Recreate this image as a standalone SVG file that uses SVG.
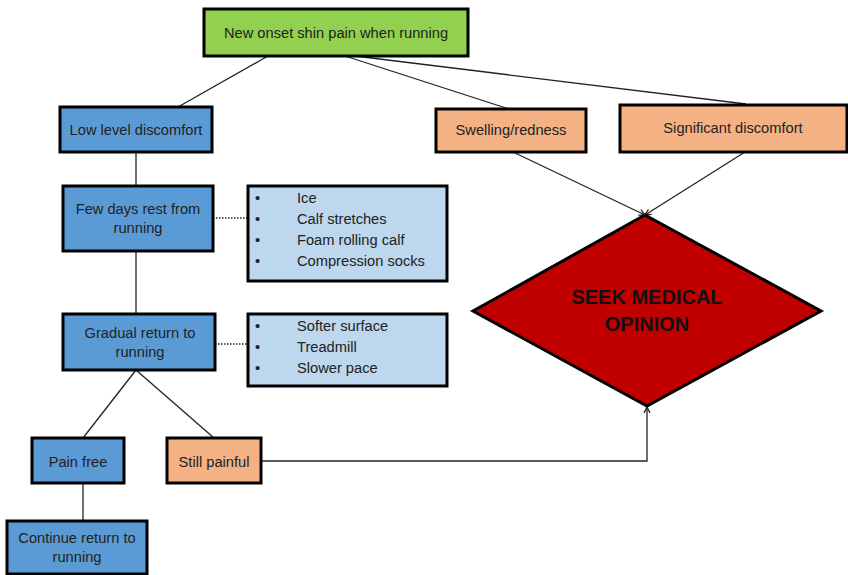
<svg xmlns="http://www.w3.org/2000/svg" width="848" height="575" viewBox="0 0 848 575">
<style>
text{font-family:"Liberation Sans",Arial,sans-serif;font-size:14.67px;fill:#222;}
.c{text-anchor:middle;}
.box{stroke:#000;stroke-width:3;}
.g{fill:#92D050;}
.b{fill:#5B9BD5;}
.lb{fill:#BDD7EE;}
.o{fill:#F4B183;}
.ln{stroke:#222;stroke-width:1.3;fill:none;}
.dot{stroke:#222;stroke-width:1.3;stroke-dasharray:1.5 1.5;fill:none;}
.big{font-size:20px;font-weight:bold;fill:#111;}
</style>
<defs>
<marker id="arr" markerWidth="10" markerHeight="10" refX="8" refY="5" orient="auto" markerUnits="userSpaceOnUse">
<polyline points="2,2 8,5 2,8" fill="none" stroke="#222" stroke-width="1.3"/>
</marker>
</defs>
<rect width="848" height="575" fill="#fff"/>
<g id="connectors">
<line class="ln" x1="268" y1="56" x2="178" y2="107"/>
<line class="ln" x1="345" y1="56" x2="509" y2="109"/>
<line class="ln" x1="355" y1="56" x2="746" y2="104"/>
<line class="ln" x1="513" y1="152" x2="645" y2="215" marker-end="url(#arr)"/>
<line class="ln" x1="745" y1="152" x2="645" y2="215" marker-end="url(#arr)"/>
<line class="ln" x1="136" y1="152" x2="136" y2="186"/>
<line class="ln" x1="136" y1="251" x2="136" y2="314"/>
<line class="dot" x1="213" y1="218" x2="248" y2="218"/>
<line class="dot" x1="215" y1="344" x2="248" y2="344"/>
<line class="ln" x1="136" y1="370" x2="83" y2="438"/>
<line class="ln" x1="136" y1="370" x2="214" y2="438"/>
<line class="ln" x1="83" y1="483" x2="83" y2="521"/>
<polyline class="ln" points="261,461 647,461 647,407" marker-end="url(#arr)"/>
</g>
<g id="n-top">
<rect class="box g" x="204" y="9" width="264" height="47"/>
<text class="c" x="336" y="37.5">New onset shin pain when running</text>
</g>
<g id="n-low">
<rect class="box b" x="60" y="107" width="152" height="45"/>
<text class="c" x="136" y="135">Low level discomfort</text>
</g>
<g id="n-swelling">
<rect class="box o" x="436" y="109" width="150" height="43"/>
<text class="c" x="511" y="135">Swelling/redness</text>
</g>
<g id="n-significant">
<rect class="box o" x="620" y="105" width="227" height="47"/>
<text class="c" x="733" y="133">Significant discomfort</text>
</g>
<g id="n-rest">
<rect class="box b" x="63" y="186" width="150" height="65"/>
<text class="c" x="138" y="214">Few days rest from</text>
<text class="c" x="138" y="233">running</text>
</g>
<g id="n-rest-list">
<rect class="box lb" x="248" y="186" width="199" height="95"/>
<g font-size="14.67">
<text x="255" y="203">•</text><text x="297" y="203">Ice</text>
<text x="255" y="224">•</text><text x="297" y="224">Calf stretches</text>
<text x="255" y="245">•</text><text x="297" y="245">Foam rolling calf</text>
<text x="255" y="266">•</text><text x="297" y="266">Compression socks</text>
</g>
</g>
<g id="n-gradual">
<rect class="box b" x="63" y="314" width="152" height="56"/>
<text class="c" x="140" y="338">Gradual return to</text>
<text class="c" x="140" y="357">running</text>
</g>
<g id="n-gradual-list">
<rect class="box lb" x="248" y="314" width="199" height="72"/>
<text x="255" y="331">•</text><text x="297" y="331">Softer surface</text>
<text x="255" y="352">•</text><text x="297" y="352">Treadmill</text>
<text x="255" y="373">•</text><text x="297" y="373">Slower pace</text>
</g>
<g id="n-painfree">
<rect class="box b" x="32" y="438" width="92" height="45"/>
<text class="c" x="78" y="467">Pain free</text>
</g>
<g id="n-still">
<rect class="box o" x="167" y="438" width="94" height="45"/>
<text class="c" x="214" y="467">Still painful</text>
</g>
<g id="n-continue">
<rect class="box b" x="7" y="521" width="140" height="53"/>
<text class="c" x="77" y="543">Continue return to</text>
<text class="c" x="77" y="562">running</text>
</g>
<g id="n-seek">
<polygon points="645,215 821,311 647,406 473,311" fill="#C00000" stroke="#000" stroke-width="3"/>
<text class="c big" x="647" y="304">SEEK MEDICAL</text>
<text class="c big" x="647" y="331">OPINION</text>
</g>
</svg>
